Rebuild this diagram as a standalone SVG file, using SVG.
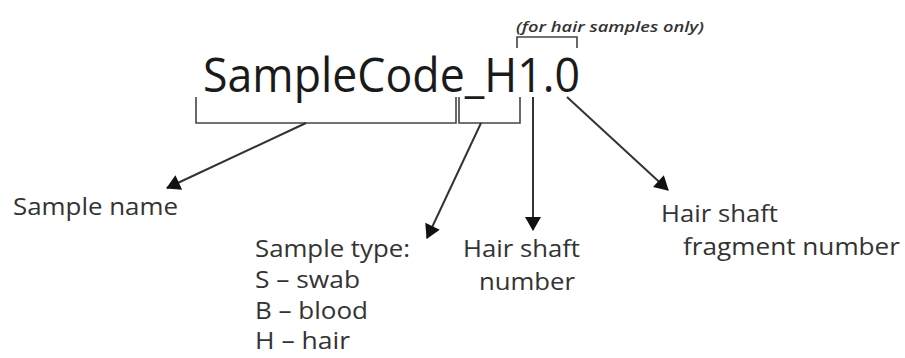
<svg xmlns="http://www.w3.org/2000/svg" width="905" height="358" viewBox="0 0 905 358">
<style>
.big{font-family:"Open Sans","Noto Sans","Liberation Sans",sans-serif;font-size:47px;fill:#1a1a1a}
.lbl{font-family:"Open Sans","Noto Sans","Liberation Sans",sans-serif;font-size:24px;fill:#333}
.note{font-family:"Open Sans","Noto Sans","Liberation Sans",sans-serif;font-size:14px;font-style:italic;font-weight:600;fill:#333}
.br{fill:none;stroke:#444;stroke-width:1.6}
.ar{fill:none;stroke:#333;stroke-width:2}
</style>
<defs>
<marker id="ah" markerUnits="userSpaceOnUse" markerWidth="16" markerHeight="16" viewBox="0 0 14 16" refX="13" refY="8" orient="auto">
<path d="M0,0 L14,8 L0,16 Z" fill="#111"/>
</marker>
</defs>
<g id="code"><text class="big" x="203" y="92" textLength="377" lengthAdjust="spacingAndGlyphs">SampleCode_H1.0</text></g>
<g id="note"><text class="note" x="516" y="32" textLength="188" lengthAdjust="spacingAndGlyphs">(for hair samples only)</text></g>
<g id="brackets">
<path class="br" d="M196,97 V123 H456 V97"/>
<path class="br" d="M459,97 V123 H520 V97"/>
<path class="br" d="M517,48 V37 H577 V48"/>
</g>
<g id="connectors">
<line class="ar" x1="306" y1="123" x2="167" y2="188" marker-end="url(#ah)"/>
<line class="ar" x1="481" y1="123" x2="427" y2="238" marker-end="url(#ah)"/>
<line class="ar" x1="533" y1="97" x2="533" y2="230" marker-end="url(#ah)"/>
<line class="ar" x1="567" y1="97" x2="668" y2="190" marker-end="url(#ah)"/>
</g>
<g id="sample-name"><text class="lbl" x="13" y="215" textLength="165" lengthAdjust="spacingAndGlyphs">Sample name</text></g>
<g id="sample-type">
<text class="lbl" x="255" y="257" textLength="155" lengthAdjust="spacingAndGlyphs">Sample type:</text>
<text class="lbl" x="255" y="288" textLength="105" lengthAdjust="spacingAndGlyphs">S – swab</text>
<text class="lbl" x="255" y="319" textLength="113" lengthAdjust="spacingAndGlyphs">B – blood</text>
<text class="lbl" x="255" y="349" textLength="95" lengthAdjust="spacingAndGlyphs">H – hair</text>
</g>
<g id="shaft-number">
<text class="lbl" x="463" y="257" textLength="117" lengthAdjust="spacingAndGlyphs">Hair shaft</text>
<text class="lbl" x="479" y="290" textLength="96" lengthAdjust="spacingAndGlyphs">number</text>
</g>
<g id="fragment-number">
<text class="lbl" x="661" y="222" textLength="117" lengthAdjust="spacingAndGlyphs">Hair shaft</text>
<text class="lbl" x="683" y="255" textLength="217" lengthAdjust="spacingAndGlyphs">fragment number</text>
</g>
</svg>
